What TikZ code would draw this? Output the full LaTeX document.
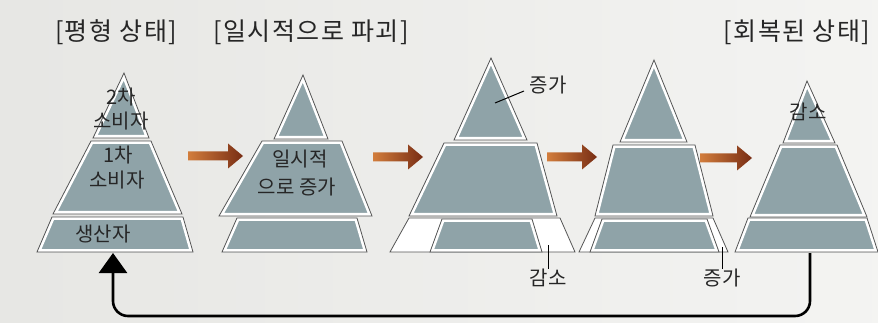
\documentclass[tikz,border=0pt]{standalone}
\usepackage{fontspec}
\newfontfamily\kr{Noto Sans CJK KR}
\newfontfamily\krwide[LetterSpace=6]{Noto Sans CJK KR}
\usetikzlibrary{arrows.meta,calc}
\definecolor{layfill}{RGB}{143,163,168}
\definecolor{layline}{RGB}{85,85,85}
\definecolor{bgc}{RGB}{236,236,233}
\definecolor{arrL}{RGB}{210,125,60}
\definecolor{arrR}{RGB}{120,45,20}
\tikzset{
  lbl/.style={font=\kr\fontsize{20}{22}\selectfont, text=black!85, inner sep=0pt},
  hdr/.style={font=\krwide\fontsize{25}{27}\selectfont, text=black!85, inner sep=0pt},
  thin line/.style={draw=layline, line width=0.8pt},
  fb/.style={line width=2.6pt, rounded corners=15pt, -{Triangle[width=28pt,length=20pt]}},
}
% #1 y top, #2 x top-left, #3 x top-right, #4 y bottom, #5 x bottom-left, #6 x bottom-right
\newcommand\pyrlayer[6]{%
  \begin{scope}
    \fill[white] (#2,#1)--(#3,#1)--(#6,#4)--(#5,#4)--cycle;
    \clip (#2,#1)--(#3,#1)--(#6,#4)--(#5,#4)--cycle;
    \fill[layfill] (#2,#1)--(#3,#1)--(#6,#4)--(#5,#4)--cycle;
    \draw[white, line width=6pt] (#2,#1)--(#3,#1)--(#6,#4)--(#5,#4)--cycle;
  \end{scope}
  \draw[thin line] (#2,#1)--(#3,#1)--(#6,#4)--(#5,#4)--cycle;
}
\newcommand\pyrwhite[6]{%
  \draw[thin line, fill=white] (#2,#1)--(#3,#1)--(#6,#4)--(#5,#4)--cycle;
}
\newcommand\orarrow[2]{%
  \shade[left color=arrL, right color=arrR]
    ($(#1)+(0,-4.5)$) -- ($(#2)+(-15,-4.5)$) -- ($(#2)+(-15,-12.5)$) -- (#2)
    -- ($(#2)+(-15,12.5)$) -- ($(#2)+(-15,4.5)$) -- ($(#1)+(0,4.5)$) -- cycle;
}
\begin{document}
\begin{tikzpicture}[x=1pt, y=-1pt]
\shade[left color=bgc!95!gray, right color=bgc!60!white] (0,0) rectangle (878,323);
\useasboundingbox (0,0) rectangle (878,323);

% headers
\node[hdr] (h1) at (116,32) {[평형 상태]};
\node[hdr] (h2) at (311,32) {[일시적으로 파괴]};
\node[hdr] (h5) at (797,32) {[회복된 상태]};

% pyramid 1
\pyrlayer{73}{124}{124}{138}{93}{149}
\pyrlayer{141}{91}{151}{214}{53}{182}
\pyrlayer{217}{52}{183}{252}{37}{193}
\node[lbl] (p1a) at (121,97) {2차};
\node[lbl] (p1b) at (121,121) {소비자};
\node[lbl] (p1c) at (118,155) {1차};
\node[lbl] (p1d) at (117,180) {소비자};
\node[lbl] (p1e) at (103,234) {생산자};

% pyramid 2
\pyrlayer{75}{303}{303}{139}{274}{328}
\pyrlayer{218}{237}{357}{252}{222}{367}
\pyrlayer{141}{262}{342}{216}{219}{372}
\node[lbl] (p2a) at (300,159) {일시적};
\node[lbl] (p2b) at (297,187) {으로 증가};

% pyramid 3
\pyrlayer{58}{491}{491}{140}{454}{527}
\pyrlayer{143}{444}{537}{216}{409}{557}
\pyrwhite{218}{409}{560}{252}{390}{575}
\pyrlayer{219}{442}{532}{252}{430}{542}
\node[lbl] (p3up) at (548,85) {증가};
\coordinate (p3in) at (495,103);
\coordinate (p3out) at (524,91);
\draw[line width=1pt] (p3in) -- (p3out);
\coordinate (t3) at (548,245);
\node[lbl] (p3dn) at (548,278) {감소};
\draw[line width=1pt] (t3) -- (p3dn.north);

% pyramid 4
\pyrlayer{60}{654}{654}{142}{620}{687}
\pyrlayer{145}{613}{695}{216}{595}{713}
\pyrwhite{218}{595}{713}{252}{579}{728}
\pyrlayer{219}{602}{707}{252}{590}{719}
\coordinate (t4) at (722,247);
\node[lbl] (p4dn) at (722,278) {증가};
\draw[line width=1pt] (t4) -- (p4dn.north);

% pyramid 5
\pyrlayer{81}{807}{807}{143}{783}{835}
\pyrlayer{145}{780}{837}{217}{750}{867}
\pyrlayer{218}{748}{867}{252}{735}{878}
\node[lbl] (p5a) at (808,112) {감소};

% orange arrows
\coordinate (a1s) at (188,156); \coordinate (a1e) at (243,156);
\coordinate (a2s) at (373,157); \coordinate (a2e) at (423,157);
\coordinate (a3s) at (547,157); \coordinate (a3e) at (597,157);
\coordinate (a4s) at (700,158); \coordinate (a4e) at (752,158);
\orarrow{a1s}{a1e}
\orarrow{a2s}{a2e}
\orarrow{a3s}{a3e}
\orarrow{a4s}{a4e}

% feedback arrow
\coordinate (fbs) at (810,253);
\coordinate (fbe) at (113,253);
\draw[fb] (fbs) -- ++(0,63) -| (fbe);
\end{tikzpicture}
\end{document}
